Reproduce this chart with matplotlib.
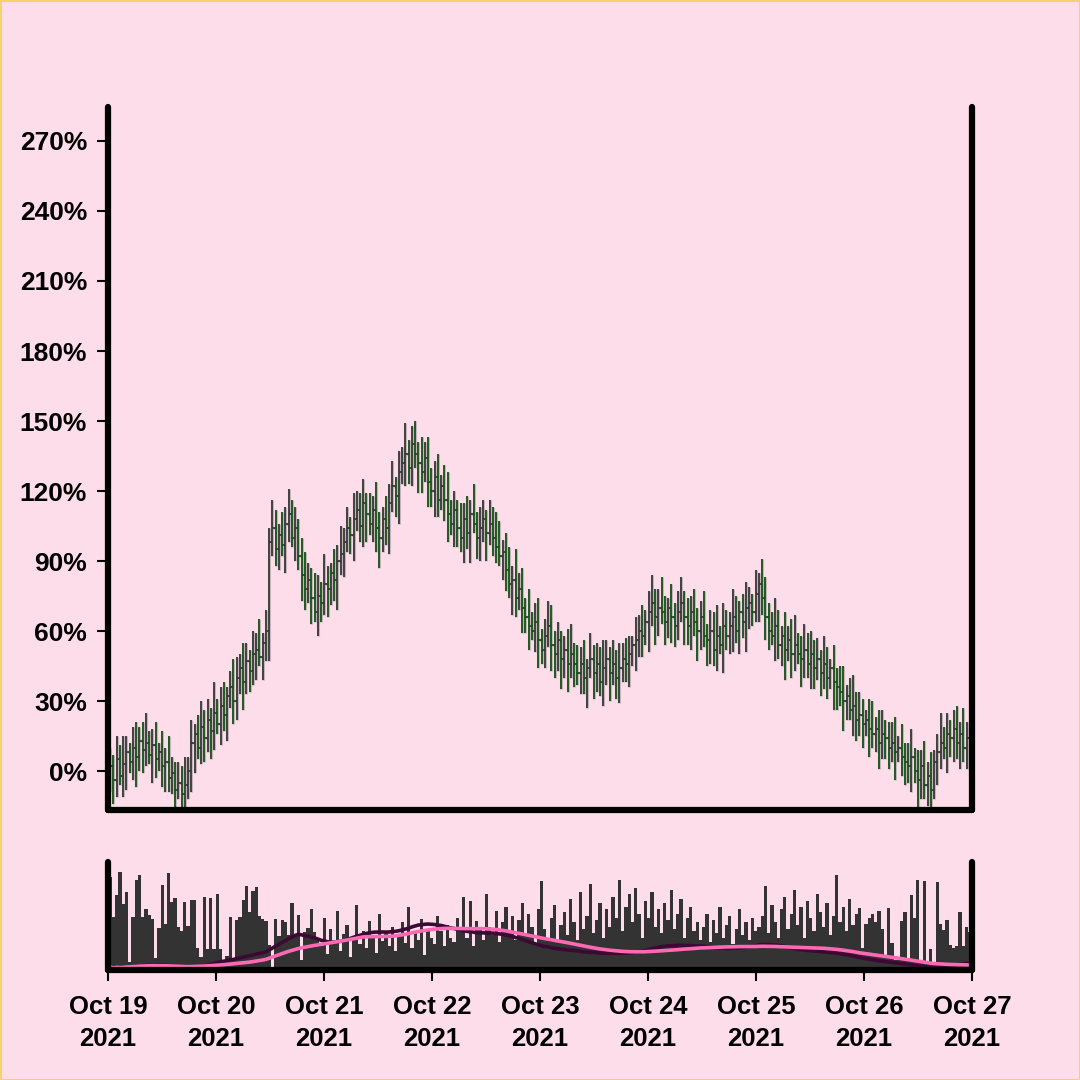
import numpy as np
import pandas as pd
import matplotlib
matplotlib.use("Agg")
import matplotlib.pyplot as plt
import matplotlib.dates as mdates
import matplotlib.patheffects as pe
from matplotlib.collections import LineCollection
from matplotlib.ticker import FuncFormatter

plt.rcParams['font.family'] = ['Liberation Sans', 'DejaVu Sans']
plt.rcParams['font.weight'] = 'bold'

# close in % (open = previous close)
first_open = -3
closes = [
    2, -4, 5, -2, 3, 8, 4,
    10, 6, 13, 9, 12, 7, 11, 5,
    8, 2, 4, -3, -1, -8, -5, -10,
    -6, 0, 12, 16, 10, 19, 14,
    22, 17, 25, 20, 28, 24, 32, 36, 30, 40, 44, 38, 47, 43, 50, 52, 49, 55, 60,
    98, 104, 95, 101, 97, 106, 110, 100, 104,
    92, 84, 78, 82, 74, 68,
    75, 72, 80, 78, 85, 82, 90, 93,
    98, 104, 101, 108, 112, 105, 115, 110,
    106, 112, 104, 100, 108, 104,
    115, 122, 118, 128, 132, 136, 130, 140,
    136, 132, 128, 134, 124, 120, 126, 116, 122, 116,
    110, 106, 112, 104, 100, 108, 102, 110, 106, 100, 104, 108, 102, 106,
    100, 96, 92, 94, 86, 80, 82, 74, 78, 70, 66, 62,
    60, 64, 56, 52, 58, 62, 54, 50, 56, 48, 52, 46, 50, 46,
    42, 46, 40, 44, 48, 42, 46, 38, 44, 48, 42, 46, 40, 44, 48, 46, 50, 54,
    56, 60, 58, 64, 68, 72, 66, 70,
    68, 64, 70, 66, 62, 68, 72, 66, 62, 68, 64, 60, 66, 58,
    56, 60, 52, 58, 54, 62, 58,
    62, 66, 60, 68, 64, 70, 72, 68, 76, 80,
    74, 66, 60, 58, 62, 54, 58, 52, 56, 50, 54, 50,
    48, 52, 46, 50, 44, 48, 42, 46, 40, 44, 38, 36,
    34, 30, 32, 26, 28, 22, 24, 20, 22, 18,
    16, 18, 12, 16, 14, 10, 12, 8, 10, 6, 4,
    2, 6, 0, -4, 2, -6, -2, -8, 4,
    8, 12, 10, 16, 14, 18, 12, 16, 10, 14, 6,
]

# how far high / low reach beyond the body (%)
up_wick = [
    8, 5, 10, 6, 12, 7, 4, 9, 11, 6, 8, 13, 5, 7, 10, 4, 9, 6, 11, 7,
    5, 9, 7, 12, 6, 10, 4, 8, 11, 7, 9, 5, 13, 6, 8, 10, 4, 7, 12, 9,
    6, 11, 8, 5, 10, 7, 13, 4, 9, 6, 12, 8, 5, 10, 7, 11, 6, 9, 4, 8,
    10, 7, 5, 11, 9, 6, 13, 8, 4, 10, 7, 12, 6, 9, 5, 11, 8, 7, 10, 4,
    9, 6, 12, 7, 5, 10, 8, 11, 4, 9, 7, 13, 6, 8, 10, 5, 11, 7, 9, 6,
    7, 10, 5, 9, 12, 6, 8, 4, 11, 7, 10, 6, 13, 5, 9, 8, 4, 10, 7, 11,
    11, 5, 8, 10, 6, 13, 7, 9, 4, 12, 6, 8, 10, 5, 7, 11, 9, 6, 8, 4,
    6, 9, 13, 5, 8, 7, 10, 4, 11, 6, 9, 7, 12, 8, 5, 10, 6, 11, 7, 9,
    8, 4, 10, 7, 11, 5, 9, 12, 6, 8, 13, 7, 4, 10, 6, 9, 11, 5, 8, 7,
    10, 6, 7, 11, 5, 9, 8, 13, 4, 10, 7, 6, 12, 9, 5, 8, 11, 7, 4, 10,
    5, 11, 9, 6, 8, 12, 7, 4, 10, 6, 9, 13, 5, 8, 11, 7, 10, 6, 9, 4,
    12, 7, 4, 10, 6, 9, 11, 5, 8, 13, 6, 10, 7, 4, 9, 12, 5, 8, 10, 6,
    7, 9, 11, 5, 10, 6, 8, 12, 4, 9, 7, 11, 6, 10, 5, 8, 13, 7, 9, 6,
    8, 10, 5, 11, 7, 9,
]
down_wick = [
    6, 10, 7, 4, 9, 11, 5, 8, 13, 6, 10, 7, 4, 12, 8, 5, 9, 11, 6, 7,
    10, 4, 8, 11, 6, 9, 13, 5, 7, 10, 6, 12, 8, 4, 9, 7, 11, 5, 10, 8,
    7, 12, 5, 9, 6, 11, 4, 10, 8, 13, 6, 7, 9, 5, 12, 8, 4, 10, 6, 11,
    9, 6, 11, 4, 10, 8, 5, 12, 7, 9, 13, 6, 10, 4, 8, 11, 5, 7, 9, 12,
    5, 8, 10, 13, 6, 7, 11, 4, 9, 12, 5, 10, 7, 8, 6, 13, 9, 4, 11, 7,
    11, 7, 4, 9, 12, 5, 10, 8, 6, 11, 7, 13, 4, 9, 10, 6, 12, 5, 8, 7,
    4, 10, 9, 6, 13, 8, 5, 11, 7, 10, 4, 9, 12, 6, 8, 5, 11, 10, 7, 13,
    8, 12, 6, 10, 5, 9, 7, 13, 4, 11, 8, 6, 10, 7, 12, 5, 9, 11, 6, 8,
    10, 5, 11, 7, 9, 4, 13, 6, 12, 8, 5, 10, 7, 11, 9, 6, 4, 12, 8, 10,
    6, 13, 8, 5, 11, 10, 7, 9, 4, 12, 6, 8, 11, 5, 10, 7, 13, 9, 6, 4,
    12, 7, 10, 8, 4, 11, 6, 9, 13, 5, 10, 7, 4, 12, 8, 6, 11, 9, 5, 10,
    7, 9, 5, 12, 10, 6, 13, 8, 4, 11, 9, 7, 10, 5, 12, 6, 8, 11, 7, 9,
    9, 6, 12, 4, 8, 10, 7, 11, 5, 13, 8, 6, 9, 12, 4, 10, 7, 5, 11, 8,
    10, 7, 11, 6, 9, 8,
]

# volume, in % of the panel height
volume = [
    86, 49, 69, 91, 61, 72, 7, 49, 83, 88, 49, 56, 51, 47, 11, 39, 79, 43, 90, 63,
    67, 40, 36, 63, 41, 65, 65, 20, 12, 68, 19,
    67, 19, 70, 19, 9, 13, 49, 9, 46, 49, 65, 78, 54, 73, 77, 50, 47, 45, 23, 3,
    47, 31, 46, 44, 32, 62, 32, 51, 9, 35, 39, 56, 35,
    30, 22, 48, 15, 38, 26, 55, 18, 33, 42, 12, 28, 60, 24, 36, 20, 45, 30, 16, 52,
    27, 35, 22, 40, 18, 31, 44, 25, 58, 20, 34, 28, 47, 14, 38, 30, 24, 50, 36, 22,
    42, 30,
    26, 48, 35, 68, 30, 64, 22, 45, 38, 28, 70, 40, 32, 55, 26,
    44, 58, 36, 50, 28, 46, 62, 34, 52, 40, 24, 56, 82, 38, 30, 48, 60, 26, 42,
    54, 32, 66, 44, 28, 72, 38, 50, 80, 34, 46, 62, 30, 56, 40, 68, 48, 83,
    36, 58, 70, 44, 76, 52, 30, 64, 48, 72, 40, 56, 34, 62, 46, 74, 38, 52, 66, 30,
    48, 58, 36, 44, 28,
    40, 52, 26, 46, 34, 58, 30, 42, 50, 24, 38, 56, 32, 44, 28, 48, 36, 40,
    50, 78, 34, 60, 44, 30, 56, 68, 38, 52, 74, 42, 58, 30, 64, 48, 36, 70, 54, 40,
    62, 32, 50, 88, 44, 58, 36, 66, 42, 52,
    57, 20, 43, 48, 52, 44, 55, 38, 12, 57, 25, 9, 9, 45, 54, 9, 69, 48, 83, 6,
    82, 6, 19, 6, 81, 43, 37, 46, 23, 20, 22, 54, 22, 40, 35,
]

yticks = [0, 30, 60, 90, 120, 150, 180, 210, 240, 270]

n = min(len(closes), len(up_wick), len(down_wick), len(volume))
closes = np.array(closes[:n], dtype=float)
opens = np.concatenate([[first_open], closes[:-1]])
highs = np.maximum(opens, closes) + np.array(up_wick[:n])
lows = np.minimum(opens, closes) - np.array(down_wick[:n])
vol = np.array(volume[:n], dtype=float)

times = pd.date_range('2021-10-19 00:30', '2021-10-26 23:30', periods=n)
x = mdates.date2num(times.to_pydatetime())
dx = x[1] - x[0]

# moving averages of the close, drawn in the volume panel
ma_fast = pd.Series(closes).rolling(10, min_periods=1).mean().values
ma_slow = pd.Series(closes).rolling(30, min_periods=1).mean().values
ma_lo, ma_hi = -7, 320

bg = '#fddde9'
up_col = '#383838'
down_col = '#145214'

fig = plt.figure(figsize=(10.8, 10.8), dpi=100)
fig.patch.set_facecolor(bg)
fig.patch.set_edgecolor('#f5d36a')
fig.patch.set_linewidth(2)

ax = fig.add_axes([0.1, 0.25, 0.8, 0.651])
axv = fig.add_axes([0.1, 0.1019, 0.8, 0.1], sharex=ax)

# OHLC bars
segs, cols = [], []
for xi, o, h, l, c in zip(x, opens, highs, lows, closes):
    col = up_col if c >= o else down_col
    segs.append([(xi, l), (xi, h)])
    segs.append([(xi - dx * 0.5, o), (xi, o)])
    segs.append([(xi, c), (xi + dx * 0.5, c)])
    cols += [col] * 3
lc = LineCollection(segs, colors=cols, linewidths=1.3, capstyle='butt')
lc.set_path_effects([pe.Stroke(linewidth=2.2, foreground='#c4b4ba'), pe.Normal()])
ax.add_collection(lc)

ax.set_xlim(mdates.date2num(pd.Timestamp('2021-10-19')), mdates.date2num(pd.Timestamp('2021-10-27')))
ax.set_ylim(-16.7, 284.6)
ax.set_yticks(yticks)
ax.yaxis.set_major_formatter(FuncFormatter(lambda v, p: f'{v:.0f}%'))

# volume
axv.bar(x, vol, width=dx, color='#333333', linewidth=0, zorder=1)
axv.plot(x, (ma_fast - ma_lo) / (ma_hi - ma_lo) * 100, color='#3d0833', lw=2.6, zorder=2)
axv.plot(x, (ma_slow - ma_lo) / (ma_hi - ma_lo) * 100, color='#ff69b4', lw=2.6, zorder=2.1)
axv.set_ylim(0, 100)
axv.set_yticks([])

for a in (ax, axv):
    a.set_facecolor(bg)
    a.spines['top'].set_visible(False)
    for s in ('left', 'right', 'bottom'):
        a.spines[s].set_linewidth(4.5)
        a.spines[s].set_capstyle('round')
        a.spines[s].set_zorder(3)

ax.tick_params(axis='x', bottom=False, labelbottom=False)
ax.tick_params(axis='y', length=8, width=1.5, pad=7, labelsize=19)

axv.xaxis.set_major_locator(mdates.DayLocator())
axv.xaxis.set_major_formatter(mdates.DateFormatter('%b %d\n%Y'))
axv.tick_params(axis='x', length=8, width=1.5, pad=10, labelsize=18.5)
for t in axv.get_xticklabels():
    t.set_horizontalalignment('center')
    t.set_multialignment('center')
    t.set_linespacing(1.4)

fig.savefig('out.png', dpi=100, facecolor=fig.get_facecolor(), edgecolor=fig.get_edgecolor())
